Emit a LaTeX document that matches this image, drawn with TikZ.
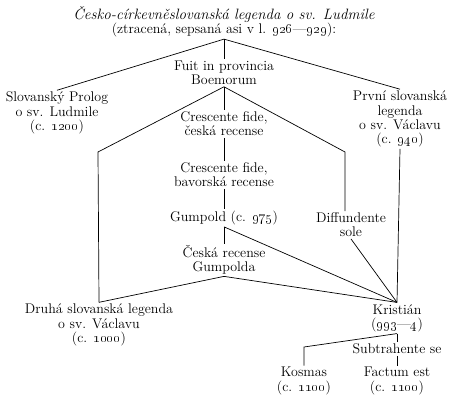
\documentclass[tikz,border=0pt]{standalone}
\usepackage{tikz}

\tikzset{
  txt/.style={align=center, inner sep=1.5pt, font=\fontsize{14}{14.2}\selectfont}
}

\begin{document}
\begin{tikzpicture}[x=1pt, y=-1pt, line width=0.7pt, every node/.style={txt}]
	%\draw[help lines] (0,0) grid[step=20] (449,395);
	\useasboundingbox (0,0) rectangle (449,395);
	% sources
	\node (src) at (224,22) {{\fontsize{15}{15}\selectfont\itshape Česko-církevněslovanská legenda o sv. Ludmile}\\(ztracená, sepsaná asi v l. \oldstylenums{926}---\oldstylenums{929}):};
	\node (fuit) at (224,73) {Fuit in provincia\\Boemorum};
	\node (prolog) at (57,113) {Slovanský Prolog\\o sv. Ludmile\\(c. \oldstylenums{1200})};
	\node (prvni) at (400,119) {První slovanská\\legenda\\o sv. Václavu\\(c. \oldstylenums{940})};
	\node (ceska) at (224,124) {Crescente fide,\\česká recense};
	\node (bavor) at (224,175) {Crescente fide,\\bavorská recense};
	\node (gumpold) at (224,218) {Gumpold (c. \oldstylenums{975})};
	\node (diff) at (351,225) {Diffundente\\sole};
	\node (ceskag) at (224,260) {Česká recense\\Gumpolda};
	\node (druha) at (99,325) {Druhá slovanská legenda\\o sv. Václavu\\(c. \oldstylenums{1000})};
	\node (kristian) at (397,318) {Kristián\\(\oldstylenums{993}---\oldstylenums{4})};
	\node (subtr) at (397,349) {Subtrahente se};
	\node (kosmas) at (304,381) {Kosmas\\(c. \oldstylenums{1100})};
	\node (factum) at (397,381) {Factum est\\(c. \oldstylenums{1100})};
	% bends
	\coordinate (fl) at (98,152);
	\coordinate (fr) at (345,152);
	\coordinate (kk) at (304,347);
	% lines
	\draw (src.south) -- (prolog.north);
	\draw (src.south) -- (fuit.north);
	\draw (src.south) -- (prvni.north);
	\draw (fuit.south) -- (ceska.north);
	\draw (fuit.south) -- (fl) -- (druha.north);
	\draw (fuit.south) -- (fr) -- (fr |- diff.north);
	\draw (ceska) -- (bavor);
	\draw (bavor) -- (gumpold);
	\draw (gumpold) -- (ceskag);
	\draw (gumpold.south) -- (kristian.north);
	\draw (diff.south) -- (kristian.north);
	\draw (prvni.south) -- (kristian.north);
	\draw (ceskag.south) -- (druha.north);
	\draw (ceskag.south) -- (kristian.north);
	\draw (kristian.south) -- (kk) -- (kosmas.north);
	\draw (kristian) -- (subtr);
	\draw (subtr) -- (factum);
\end{tikzpicture}
\end{document}
